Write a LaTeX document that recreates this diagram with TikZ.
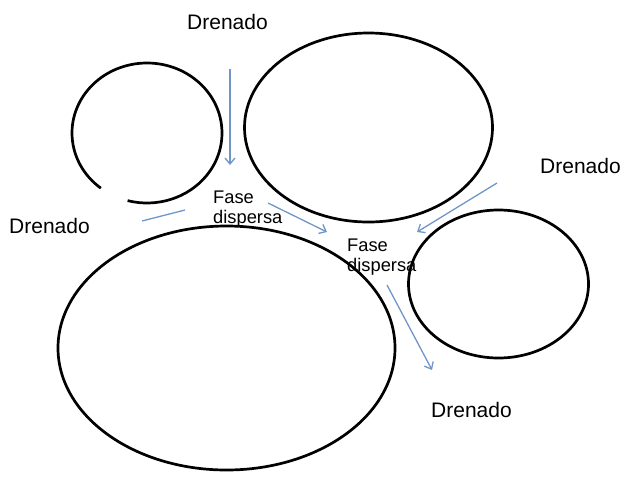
\documentclass[tikz,border=0pt]{standalone}
\usepackage{fontspec}
\setmainfont{Liberation Sans}
\usetikzlibrary{arrows.meta}
\definecolor{flow}{RGB}{112,150,200}
\tikzset{
  grain/.style={line width=2.7pt, black},
  flowline/.style={line width=1.3pt, flow},
  flowarrow/.style={flowline, -{Straight Barb[length=6pt,width=10pt]}},
  bigtext/.style={font=\fontsize{21}{24}\selectfont, inner sep=0pt, anchor=base west},
  smalltext/.style={font=\fontsize{18.3}{20}\selectfont, inner sep=0pt, anchor=base west, align=left},
}
\begin{document}
\begin{tikzpicture}[x=1pt,y=-1pt]
\useasboundingbox (0,0) rectangle (623,488);
% grains
\draw[grain] (147,133) ++(128:75 and 70) arc[start angle=128, end angle=465, x radius=75, y radius=70];
\draw[grain] (368.5,127.5) ellipse[x radius=124, y radius=94.5];
\draw[grain] (226.5,348) ellipse[x radius=168.5, y radius=122];
\draw[grain] (498.5,284) ellipse[x radius=90, y radius=74];
% labels
\node[bigtext] (d1) at (187,29) {Drenado};
\node[bigtext] (d2) at (9,233) {Drenado};
\node[bigtext] (d3) at (540,173) {Drenado};
\node[bigtext] (d4) at (431,417) {Drenado};
\node[smalltext] (f1) at (213,223) {Fase\\dispersa};
\node[smalltext] (f2) at (347,271) {Fase\\dispersa};
% flows
\coordinate (a1s) at (230,69);  \coordinate (a1e) at (230,165);
\coordinate (a2s) at (142,221); \coordinate (a2e) at (185,210);
\coordinate (a3s) at (268,203); \coordinate (a3e) at (327,232);
\coordinate (a4s) at (497,183); \coordinate (a4e) at (417,232);
\coordinate (a5s) at (387,285); \coordinate (a5e) at (432,370);
\draw[flowarrow] (a1s) -- (a1e);
\draw[flowline] (a2s) -- (a2e);
\draw[flowarrow] (a3s) -- (a3e);
\draw[flowarrow] (a4s) -- (a4e);
\draw[flowarrow] (a5s) -- (a5e);
\end{tikzpicture}
\end{document}
